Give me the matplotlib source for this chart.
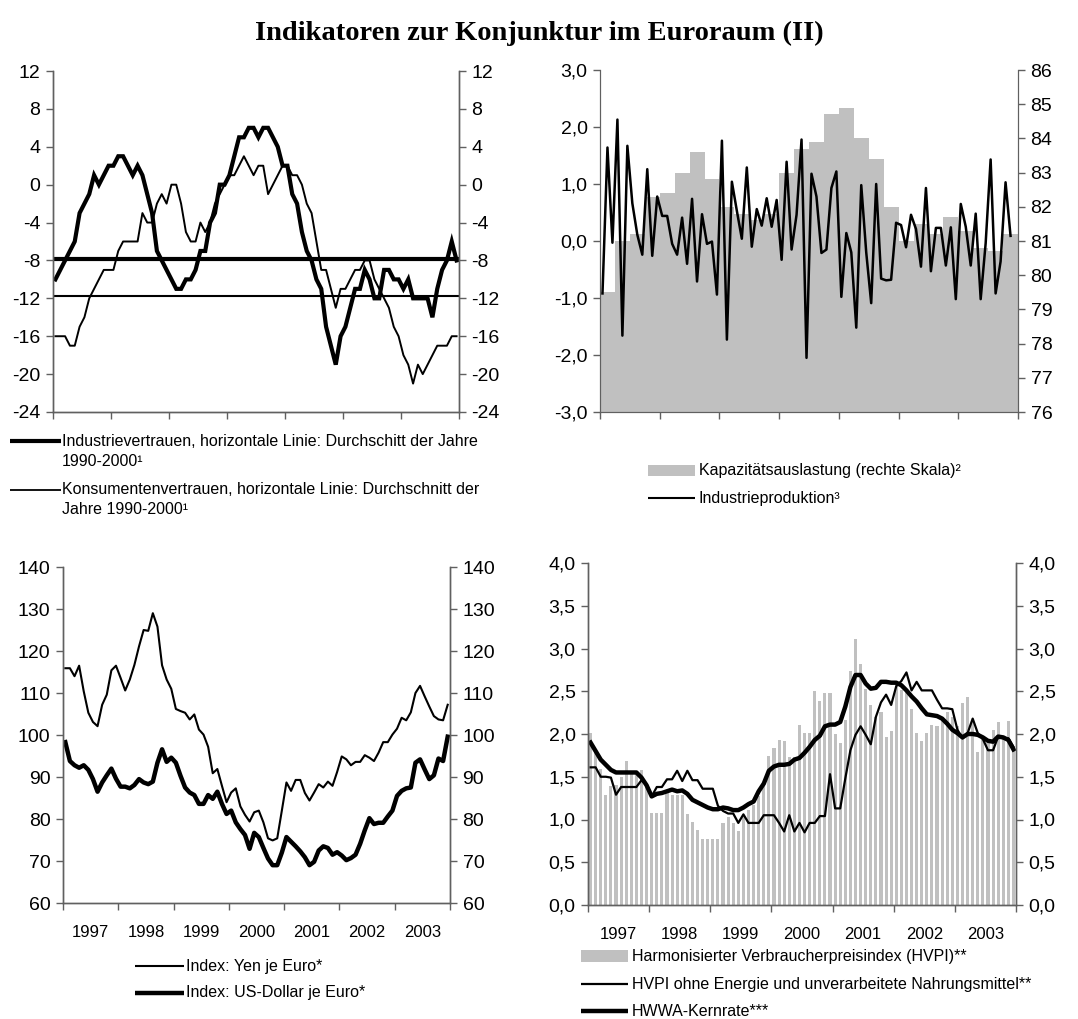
import numpy as np
import matplotlib
matplotlib.use("Agg")
import matplotlib.pyplot as plt
from matplotlib.lines import Line2D
from matplotlib.patches import Rectangle
from matplotlib.ticker import FuncFormatter

plt.rcParams['font.family'] = ['Liberation Sans', 'DejaVu Sans']
plt.rcParams['axes.unicode_minus'] = False

W, H = 1078, 1019

# ---------------- data ----------------
years = ['1997', '1998', '1999', '2000', '2001', '2002', '2003']

industrievertrauen = [-10, -9, -8, -7, -6, -3, -2, -1, 1, 0, 1, 2, 2, 3, 3, 2, 1, 2, 1, -1,
                      -3, -7, -8, -9, -10, -11, -11, -10, -10, -9, -7, -7, -4, -3, 0, 0, 1, 3, 5, 5,
                      6, 6, 5, 6, 6, 5, 4, 2, 2, -1, -2, -5, -7, -8, -10, -11, -15, -17, -19, -16,
                      -15, -13, -11, -11, -9, -10, -12, -12, -9, -9, -10, -10, -11, -10, -12, -12, -12, -12, -14, -11,
                      -9, -8, -6, -8]
konsumentenvertrauen = [-16, -16, -16, -17, -17, -15, -14, -12, -11, -10, -9, -9, -9, -7, -6, -6, -6, -6, -3, -4,
                        -4, -2, -1, -2, 0, 0, -2, -5, -6, -6, -4, -5, -4, -2, -1, 0, 1, 1, 2, 3,
                        2, 1, 2, 2, -1, 0, 1, 2, 2, 1, 1, 0, -2, -3, -6, -9, -9, -11, -13, -11,
                        -11, -10, -9, -9, -8, -8, -10, -11, -12, -13, -15, -16, -18, -19, -21, -19, -20, -19, -18, -17,
                        -17, -17, -16, -16]
avg_industrie = -7.8
avg_konsument = -11.8

kapazitaet_q = [79.5, 81.0, 81.2, 82.3, 82.4, 83.0, 83.6, 82.8, 82.0, 81.8, 81.6, 81.8, 83.0, 83.7,
                83.9, 84.7, 84.9, 84.0, 83.4, 82.0, 81.0, 81.5, 81.2, 81.7, 81.3, 80.8, 80.7, 81.2]
industrieproduktion = [-0.92, 1.64, -0.03, 2.13, -1.66, 1.67, 0.66, 0.11, -0.24, 1.26, -0.26, 0.78, 0.44, 0.44,
                       -0.05, -0.24, 0.41, -0.40, 0.74, -0.71, 0.47, -0.05, -0.01, -0.94, 1.76, -1.73, 1.04, 0.53,
                       0.04, 1.29, -0.10, 0.56, 0.27, 0.75, 0.25, 0.72, -0.33, 1.39, -0.15, 0.46, 1.78, -2.05,
                       1.18, 0.78, -0.21, -0.15, 0.93, 1.22, -0.98, 0.14, -0.20, -1.52, 0.98, -0.20, -1.09, 1.00,
                       -0.66, -0.69, -0.68, 0.32, 0.28, -0.11, 0.46, 0.21, -0.45, 0.93, -0.53, 0.23, 0.23, -0.43,
                       0.24, -1.02, 0.65, 0.25, -0.43, 0.48, -1.02, -0.04, 1.43, -0.92, -0.36, 1.03, 0.09]

yen_je_euro = [115.9, 115.9, 114.0, 116.5, 110.4, 105.3, 103.1, 102.1, 107.2, 109.6, 115.4, 116.5,
               113.6, 110.6, 113.2, 116.7, 121.1, 125.0, 124.8, 129.0, 125.8, 116.6, 113.2, 111.0,
               106.2, 105.7, 105.3, 103.7, 104.9, 101.3, 100.1, 97.2, 90.9, 91.9, 87.9, 84.0,
               86.3, 87.3, 83.0, 81.0, 79.4, 81.6, 82.0, 79.2, 75.4, 74.9, 75.4, 82.0,
               88.7, 86.7, 89.3, 89.3, 86.2, 84.4, 86.3, 88.3, 87.5, 88.9, 87.9, 91.2,
               94.9, 94.2, 92.8, 93.6, 93.6, 95.2, 94.6, 93.8, 95.8, 98.3, 98.3, 100.1,
               101.5, 104.1, 103.5, 105.4, 110.0, 111.7, 109.2, 106.8, 104.5, 103.7, 103.5, 107.2]
usd_je_euro = [98.3, 93.8, 92.8, 92.2, 92.8, 91.7, 89.5, 86.5, 88.7, 90.4, 92.0, 89.6,
               87.7, 87.7, 87.3, 88.1, 89.5, 88.7, 88.3, 88.9, 93.4, 96.6, 93.6, 94.6,
               93.4, 90.3, 87.5, 86.3, 85.7, 83.6, 83.6, 85.7, 84.8, 86.5, 83.6, 81.2,
               82.0, 79.2, 77.6, 76.2, 72.9, 76.7, 75.7, 73.1, 70.6, 69.0, 69.0, 72.0,
               75.7, 74.6, 73.5, 72.3, 70.9, 69.0, 69.8, 72.5, 73.5, 73.1, 71.5, 72.1,
               71.3, 70.2, 70.7, 71.5, 74.1, 77.3, 80.2, 78.8, 79.1, 79.1, 80.6, 82.0,
               85.5, 86.7, 87.3, 87.5, 93.4, 94.2, 91.8, 89.5, 90.4, 94.4, 93.8, 99.6]

hvpi = [2.01, 1.80, 1.59, 1.29, 1.39, 1.40, 1.50, 1.68, 1.57, 1.55, 1.58, 1.42, 1.08, 1.08,
        1.08, 1.35, 1.29, 1.29, 1.29, 1.06, 0.97, 0.88, 0.77, 0.77, 0.77, 0.77, 0.96, 1.03,
        0.96, 0.87, 1.03, 1.11, 1.17, 1.27, 1.42, 1.74, 1.84, 1.93, 1.92, 1.73, 1.73,
        2.11, 2.01, 2.01, 2.50, 2.39, 2.48, 2.48, 2.00, 1.90, 2.16, 2.74, 3.11, 2.82, 2.53,
        2.34, 2.20, 2.26, 1.96, 2.04, 2.59, 2.51, 2.50, 2.29, 2.01, 1.92, 2.01, 2.11, 2.09,
        2.16, 2.26, 2.20, 2.09, 2.36, 2.43, 2.16, 1.79, 1.97, 1.89, 2.05, 2.14, 1.96, 2.15, 1.85]
hvpi_kern = [1.61, 1.61, 1.50, 1.50, 1.49, 1.29, 1.38, 1.38, 1.38, 1.38, 1.46, 1.40, 1.27, 1.38,
             1.38, 1.47, 1.47, 1.57, 1.45, 1.57, 1.46, 1.46, 1.36, 1.36, 1.36, 1.16, 1.10, 1.07,
             1.07, 0.96, 1.06, 0.96, 0.96, 0.96, 1.05, 1.05, 1.05, 0.96, 0.86, 1.05, 0.86,
             0.96, 0.85, 0.96, 0.96, 1.04, 1.04, 1.53, 1.13, 1.13, 1.48, 1.81, 1.99, 2.09, 1.99,
             1.88, 2.20, 2.37, 2.46, 2.34, 2.56, 2.62, 2.72, 2.51, 2.61, 2.51, 2.51, 2.51, 2.40,
             2.30, 2.30, 2.29, 2.05, 1.95, 2.01, 2.18, 2.01, 1.94, 1.81, 1.81, 1.97, 1.95, 1.95, 1.85]
hwwa_kernrate = [1.90, 1.80, 1.70, 1.64, 1.58, 1.55, 1.55, 1.55, 1.55, 1.55, 1.49, 1.40, 1.27, 1.30,
                 1.31, 1.33, 1.35, 1.33, 1.34, 1.30, 1.23, 1.20, 1.17, 1.14, 1.12, 1.12, 1.14, 1.13,
                 1.11, 1.11, 1.14, 1.18, 1.21, 1.33, 1.42, 1.57, 1.62, 1.64, 1.64, 1.65, 1.70,
                 1.72, 1.78, 1.85, 1.93, 1.98, 2.09, 2.11, 2.11, 2.14, 2.32, 2.55, 2.69, 2.69, 2.59,
                 2.53, 2.54, 2.61, 2.61, 2.60, 2.60, 2.57, 2.51, 2.44, 2.38, 2.30, 2.23, 2.22, 2.21,
                 2.18, 2.12, 2.05, 2.01, 1.96, 2.00, 2.00, 1.99, 1.96, 1.92, 1.91, 1.97, 1.96, 1.93, 1.82]

NMONTHS = 84
GRAY = '#C0C0C0'
SPINE = '#606060'

fig = plt.figure(figsize=(W / 100, H / 100), dpi=100)


def add_ax(l, t, r, b):
    return fig.add_axes([l / W, 1 - b / H, (r - l) / W, (b - t) / H])


def comma(v, pos=None):
    return ('%.1f' % v).replace('.', ',')


def style(ax, twin, ylim, yticks, fmt=None, xlabels=False, ysize=14):
    for a in (ax, twin):
        a.set_xlim(0, NMONTHS)
        a.set_ylim(*ylim)
        a.set_yticks(yticks)
        if fmt:
            a.yaxis.set_major_formatter(FuncFormatter(fmt))
        a.spines['top'].set_visible(False)
        for s in ('left', 'right', 'bottom'):
            a.spines[s].set_color(SPINE)
            a.spines[s].set_linewidth(1.0)
        a.tick_params(axis='y', direction='out', length=5, width=1, color=SPINE,
                      labelsize=ysize, pad=4)
        a.set_facecolor('none')
    ax.yaxis.tick_left()
    twin.yaxis.tick_right()
    ax.set_xticks(np.arange(0, NMONTHS + 1, 12))
    ax.tick_params(axis='x', direction='out', length=5, width=1, color=SPINE, labelbottom=False)
    twin.tick_params(axis='x', length=0, labelbottom=False)
    if xlabels:
        ax.set_xticks(np.arange(6, NMONTHS, 12), minor=True)
        ax.set_xticklabels(years, minor=True)
        ax.tick_params(axis='x', which='minor', length=0, labelsize=12, pad=16)


# ---------------- top-left ----------------
ax1 = add_ax(53, 71, 459, 412)
ax1r = ax1.twinx()
x = np.arange(len(industrievertrauen)) + 0.5
ax1.axhline(avg_industrie, color='black', lw=3.0)
ax1.axhline(avg_konsument, color='black', lw=1.5)
ax1.plot(np.arange(len(konsumentenvertrauen)) + 0.5, konsumentenvertrauen, color='black', lw=1.4)
ax1.plot(x, industrievertrauen, color='black', lw=3.0, solid_joinstyle='miter')
style(ax1, ax1r, (-24, 12), np.arange(-24, 13, 4))

# ---------------- top-right ----------------
ax2 = add_ax(600, 70, 1018, 412)
ax2l = ax2.twinx()
ax2.bar(np.arange(len(kapazitaet_q)) * 3, np.array(kapazitaet_q) - 76, bottom=76, width=3,
        align='edge', color=GRAY, edgecolor='none')
ax2l.plot(np.arange(len(industrieproduktion)) + 0.5, industrieproduktion, color='black', lw=1.8)
for a in (ax2, ax2l):
    a.set_xlim(0, NMONTHS)
    a.spines['top'].set_visible(False)
    for s in ('left', 'right', 'bottom'):
        a.spines[s].set_color(SPINE)
    a.tick_params(axis='y', direction='out', length=5, width=1, color=SPINE, labelsize=14, pad=4)
ax2.set_ylim(76, 86)
ax2.set_yticks(np.arange(76, 87, 1))
ax2.yaxis.tick_right()
ax2l.set_ylim(-3, 3)
ax2l.set_yticks(np.arange(-3, 3.1, 1))
ax2l.yaxis.set_major_formatter(FuncFormatter(comma))
ax2l.yaxis.tick_left()
ax2.set_xticks(np.arange(0, NMONTHS + 1, 12))
ax2.tick_params(axis='x', direction='out', length=5, width=1, color=SPINE, labelbottom=False)
ax2l.tick_params(axis='x', length=0, labelbottom=False)

# ---------------- bottom-left ----------------
ax3 = add_ax(63, 567, 450, 903)
ax3r = ax3.twinx()
ax3.plot(np.arange(len(yen_je_euro)) + 0.5, yen_je_euro, color='black', lw=1.5)
ax3.plot(np.arange(len(usd_je_euro)) + 0.5, usd_je_euro, color='black', lw=3.2)
style(ax3, ax3r, (60, 140), np.arange(60, 141, 10), xlabels=True)

# ---------------- bottom-right ----------------
ax4 = add_ax(588, 563, 1016, 905)
ax4r = ax4.twinx()
ax4.bar(np.arange(len(hvpi)) + 0.5, hvpi, width=0.6, color=GRAY, edgecolor='none')
ax4.plot(np.arange(len(hvpi_kern)) + 0.5, hvpi_kern, color='black', lw=1.6)
ax4.plot(np.arange(len(hwwa_kernrate)) + 0.5, hwwa_kernrate, color='black', lw=3.2)
style(ax4, ax4r, (0, 4), np.arange(0, 4.01, 0.5), fmt=comma, xlabels=True)

# ---------------- title ----------------
fig.text(0.5, 1 - 33 / H, 'Indikatoren zur Konjunktur im Euroraum (II)', ha='center', va='center',
         family='Liberation Serif', weight='bold', fontsize=20.5)

# ---------------- legends ----------------
LSIZE = 11.5


def leg_line(x0, x1, y, lw):
    fig.add_artist(Line2D([x0 / W, x1 / W], [1 - y / H, 1 - y / H], color='black', lw=lw,
                          solid_capstyle='butt'))


def leg_patch(x0, x1, y0, y1):
    fig.add_artist(Rectangle((x0 / W, 1 - y1 / H), (x1 - x0) / W, (y1 - y0) / H,
                             facecolor=GRAY, edgecolor='none', transform=fig.transFigure))


def leg_text(x0, y, s):
    fig.text(x0 / W, 1 - y / H, s, ha='left', va='center', fontsize=LSIZE)


leg_line(10, 61, 441, 3.0)
leg_text(62, 441, 'Industrievertrauen, horizontale Linie: Durchschitt der Jahre')
leg_text(62, 461, '1990-2000¹')
leg_line(10, 61, 490, 1.3)
leg_text(62, 490, 'Konsumentenvertrauen, horizontale Linie: Durchschnitt der')
leg_text(62, 510, 'Jahre 1990-2000¹')

leg_patch(648, 695, 465, 476)
leg_text(699, 470, 'Kapazitätsauslastung (rechte Skala)²')
leg_line(648, 695, 498, 1.5)
leg_text(699, 498, 'Industrieproduktion³')

leg_line(135, 184, 966, 1.5)
leg_text(186, 966, 'Index: Yen je Euro*')
leg_line(135, 184, 993, 3.2)
leg_text(186, 993, 'Index: US-Dollar je Euro*')

leg_patch(581, 628, 950, 962)
leg_text(632, 956, 'Harmonisierter Verbraucherpreisindex (HVPI)**')
leg_line(581, 628, 984, 1.6)
leg_text(632, 984, 'HVPI ohne Energie und unverarbeitete Nahrungsmittel**')
leg_line(581, 628, 1011, 3.2)
leg_text(632, 1011, 'HWWA-Kernrate***')

fig.savefig('out.png', dpi=100)
